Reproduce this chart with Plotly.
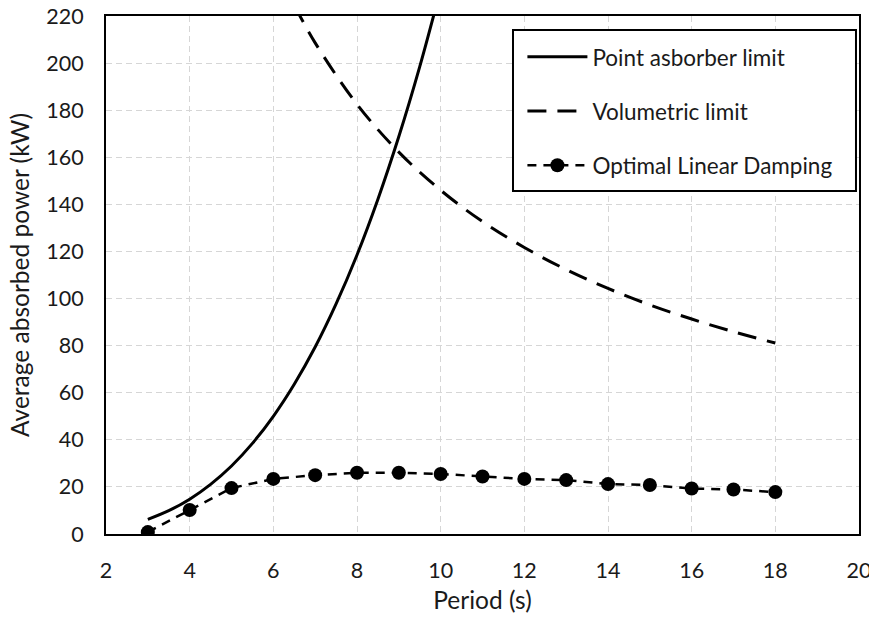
import plotly.graph_objects as go

# Point absorber limit
pa_period = [3, 3.5, 4, 4.5, 5, 5.5, 6, 6.5, 7, 7.5, 8, 8.5, 9, 9.5, 10]
pa_power = [6.2, 9.9, 14.8, 21.1, 28.9, 38.5, 50.0, 63.6, 79.4, 97.7, 118.5, 142.2, 168.8, 198.5, 231.5]

# Volumetric limit
vol_period = [6.5, 7, 8, 9, 10, 11, 12, 13, 14, 15, 16, 17, 18]
vol_power = [224.6, 208.6, 182.5, 162.2, 146.0, 132.7, 121.7, 112.3, 104.3, 97.3, 91.3, 85.9, 81.1]

# Optimal Linear Damping
old_period = [3, 4, 5, 6, 7, 8, 9, 10, 11, 12, 13, 14, 15, 16, 17, 18]
old_power = [0.8, 10.2, 19.5, 23.4, 25.0, 26.0, 26.0, 25.5, 24.4, 23.4, 22.9, 21.2, 20.8, 19.3, 18.9, 17.8]

x_ticks = [2, 4, 6, 8, 10, 12, 14, 16, 18, 20]
y_ticks = [0, 20, 40, 60, 80, 100, 120, 140, 160, 180, 200, 220]

FONT = "Lato"
TXT = "#1a1a1a"

fig = go.Figure()
fig.add_trace(go.Scatter(x=pa_period, y=pa_power, mode="lines", name="Point asborber limit",
                         line=dict(color="black", width=3, shape="spline"), legendgroup="a"))
fig.add_trace(go.Scatter(x=vol_period, y=vol_power, mode="lines", name="Volumetric limit",
                         line=dict(color="black", width=3, dash="19px,11px", shape="spline"), legendgroup="b"))
fig.add_trace(go.Scatter(x=old_period, y=old_power, mode="lines+markers", name="Optimal Linear Damping",
                         line=dict(color="black", width=2.5, dash="9px,7px"),
                         marker=dict(color="black", size=14), legendgroup="c"))

axis_common = dict(
    showline=True, linecolor="black", linewidth=2, mirror=True,
    showgrid=True, gridcolor="#d6d6d6", gridwidth=1, griddash="6px,4px",
    zeroline=False, ticks="", ticklabelstandoff=16, automargin=False,
    ticklabeloverflow="allow",
    tickfont=dict(family=FONT, size=21.5, color=TXT),
)

# Legend frame (white box with black border)
fig.add_shape(type="rect", xref="paper", yref="paper",
              x0=0.5405, x1=0.996, y0=0.662, y1=0.973,
              line=dict(color="black", width=2), fillcolor="white", layer="above")

fig.update_layout(
    width=869, height=619,
    margin=dict(l=106, r=10, t=16, b=85),
    paper_bgcolor="white", plot_bgcolor="white",
    font=dict(family=FONT, size=21, color=TXT),
    showlegend=True,
    legend=dict(x=0.553, y=0.962, xanchor="left", yanchor="top",
                bgcolor="rgba(0,0,0,0)", borderwidth=0,
                font=dict(family=FONT, size=22.5, color=TXT),
                traceorder="grouped", tracegroupgap=22,
                itemwidth=60),
    xaxis=dict(range=[2, 20], tickvals=x_ticks,
               title=dict(text="Period (s)", font=dict(family=FONT, size=24.5, color=TXT), standoff=10),
               **axis_common),
    yaxis=dict(range=[0, 220], tickvals=y_ticks,
               title=dict(text="Average absorbed power (kW)", font=dict(family=FONT, size=24.5, color=TXT), standoff=10),
               **axis_common),
)

fig.write_html("out.html")
